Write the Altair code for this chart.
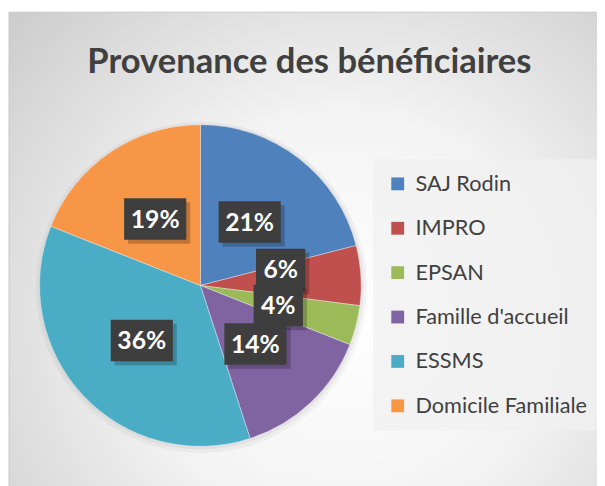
import altair as alt
import pandas as pd

categories = ["SAJ Rodin", "IMPRO", "EPSAN", "Famille d'accueil", "ESSMS", "Domicile Familiale"]
values = [21, 6, 4, 14, 36, 19]
colors = ["#4F81BD", "#C0504D", "#9BBB59", "#8064A2", "#4BACC6", "#F79646"]
title_text = "Provenance des bénéficiaires"

# layout constants
W, H = 597, 478
CX, CY, R = 195, 278, 163
LR = R * 0.5
nudge_y = {"IMPRO": -11}
FONT = "Lato"

df = pd.DataFrame({
    "cat": categories,
    "value": values,
    "idx": list(range(len(categories))),
    "ndy": [nudge_y.get(c, 0) for c in categories],
})

bg = alt.Chart(alt.Data(values=[{}])).mark_rect(
    fill=alt.RadialGradient(
        gradient="radial", x1=0.55, y1=0.6, x2=0.55, y2=0.6, r1=0.0, r2=0.75,
        stops=[alt.GradientStop(offset=0, color="#ffffff"),
               alt.GradientStop(offset=0.45, color="#f3f3f3"),
               alt.GradientStop(offset=1, color="#cbcbcb")]),
    stroke="#c8c8c8", strokeWidth=1,
).encode(x=alt.value(1), x2=alt.value(W + 20), y=alt.value(1), y2=alt.value(H + 20))

shadow = alt.Chart(alt.Data(values=[{}])).mark_arc(
    outerRadius=R + 5, theta=0, theta2=6.2832, fill="#000000", opacity=0.035
).encode(x=alt.value(CX + 1), y=alt.value(CY + 2))
shadow2 = alt.Chart(alt.Data(values=[{}])).mark_arc(
    outerRadius=R + 2, theta=0, theta2=6.2832, fill="#000000", opacity=0.045
).encode(x=alt.value(CX + 1), y=alt.value(CY + 1))

pie = alt.Chart(df).mark_arc(outerRadius=R, stroke="#ffffff", strokeWidth=0.6, strokeOpacity=0.6).encode(
    theta=alt.Theta("value:Q", stack=True),
    order=alt.Order("idx:Q"),
    color=alt.Color("cat:N", scale=alt.Scale(domain=categories, range=colors),
                    legend=alt.Legend(
                        title=None, orient="none", legendX=370, legendY=150,
                        padding=14, fillColor="rgba(240,240,240,0.75)",
                        symbolType="square", symbolSize=169, symbolStrokeWidth=0,
                        labelFont=FONT, labelFontSize=22, labelColor="#404040",
                        rowPadding=23, labelLimit=400, labelOffset=7,
                    )),
    x=alt.value(CX), y=alt.value(CY),
)

base = alt.Chart(df).transform_joinaggregate(
    total="sum(value)"
).transform_window(
    cum="sum(value)", sort=[alt.SortField("idx")], frame=[None, 0]
).transform_calculate(
    mid="(datum.cum - datum.value/2) / datum.total",
    label="format(datum.value / datum.total, '.0%')",
).transform_calculate(
    cx=f"{CX} + {LR} * sin(datum.mid * 2 * PI)",
    cy=f"{CY} - {LR} * cos(datum.mid * 2 * PI) + datum.ndy",
    bw="13 * length(datum.label) + 24",
).transform_calculate(
    x1="datum.cx - datum.bw/2", x2="datum.cx + datum.bw/2",
    y1="datum.cy - 21", y2="datum.cy + 21",
    sx1="datum.cx - datum.bw/2 + 4", sx2="datum.cx + datum.bw/2 + 4",
    sy1="datum.cy - 21 + 4", sy2="datum.cy + 21 + 4",
)

label_layers = []
for c in categories:
    b = base.transform_filter(alt.datum.cat == c)
    sh = b.mark_rect(fill="#000000", opacity=0.22).encode(
        x=alt.X("sx1:Q", scale=None), x2="sx2:Q",
        y=alt.Y("sy1:Q", scale=None), y2="sy2:Q")
    box = b.mark_rect(fill="#3e3e3e").encode(
        x=alt.X("x1:Q", scale=None), x2="x2:Q",
        y=alt.Y("y1:Q", scale=None), y2="y2:Q")
    txt = b.mark_text(font=FONT, fontSize=25, fontWeight="bold", color="#ffffff",
                      align="center", baseline="middle", dy=1).encode(
        x=alt.X("cx:Q", scale=None), y=alt.Y("cy:Q", scale=None), text="label:N")
    label_layers += [sh, box, txt]

title = alt.Chart(alt.Data(values=[{}])).mark_text(
    text=title_text, font=FONT, fontSize=35, fontWeight="bold", color="#404040",
    align="center", baseline="alphabetic"
).encode(x=alt.value(305.5), y=alt.value(63))

chart = alt.layer(bg, shadow, shadow2, pie, *label_layers, title).properties(
    width=W, height=H, padding=0,
    autosize=alt.AutoSizeParams(type="none"),
).configure_view(stroke=None)

chart.save("out.html", embed_options={"renderer": "svg", "actions": False})
